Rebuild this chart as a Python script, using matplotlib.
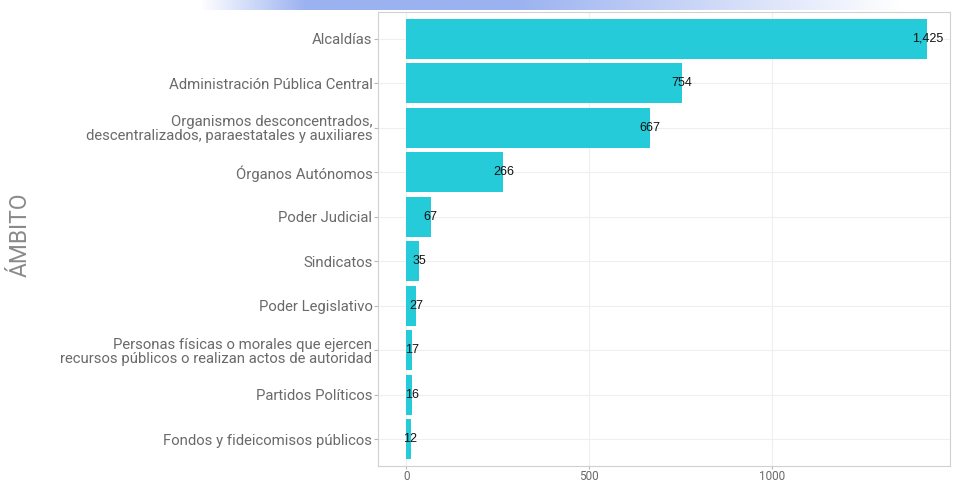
import numpy as np
import matplotlib
matplotlib.use("Agg")
import matplotlib.pyplot as plt

# data
ambitos = [
    "Alcaldías",
    "Administración Pública Central",
    "Organismos desconcentrados,\ndescentralizados, paraestatales y auxiliares",
    "Órganos Autónomos",
    "Poder Judicial",
    "Sindicatos",
    "Poder Legislativo",
    "Personas físicas o morales que ejercen\nrecursos públicos o realizan actos de autoridad",
    "Partidos Políticos",
    "Fondos y fideicomisos públicos",
]
valores = [1425, 754, 667, 266, 67, 35, 27, 17, 16, 12]
xticks = [0, 500, 1000]

bar_color = "#26CBD9"
txt_gray = "#6a6a6a"

fig = plt.figure(figsize=(9.54, 4.83), dpi=100)

# decorative gradient strip at the top
gax = fig.add_axes([200 / 954, 1 - 10 / 483, 700 / 954, 10 / 483])
t = np.linspace(0, 1, 400)
strength = np.clip(np.minimum(t / 0.15, (1 - t) / 0.55), 0, 1)
peak = np.array([155, 178, 240]) / 255.0
grad = 1 - strength[:, None] * (1 - peak[None, :])
gax.imshow(grad[None, :, :], aspect="auto", extent=[0, 1, 0, 1])
gax.axis("off")

ax = fig.add_axes([378 / 954, 17 / 483, 572 / 954, 454 / 483])
ypos = np.arange(len(ambitos))
ax.barh(ypos, valores, height=0.9, color=bar_color, zorder=2)
for y, v in zip(ypos, valores):
    ax.text(v, y, f"{v:,}", ha="center", va="center", fontsize=9,
            color="#111111", family="Liberation Sans", zorder=3)

ax.set_yticks(ypos)
ax.set_yticklabels(ambitos, fontsize=10.7, color=txt_gray, family="Roboto",
                   linespacing=1.0)
ax.set_xticks(xticks)
ax.set_xticklabels([str(x) for x in xticks], fontsize=8.5, color=txt_gray,
                   family="Roboto")
ax.set_xlim(-77, 1487)
ax.set_ylim(len(ambitos) - 0.4, -0.6)

ax.grid(True, color="#efefef", linewidth=0.8, zorder=0)
ax.set_axisbelow(True)
for side in ["top", "right", "left", "bottom"]:
    ax.spines[side].set_color("#d0d0d0")
    ax.spines[side].set_linewidth(0.8)
ax.tick_params(axis="y", color="#b8b8b8", length=3, width=0.8, pad=1)
ax.tick_params(axis="x", color="#b8b8b8", length=2, width=0.8, pad=1)

fig.text(20 / 954, 1 - 235 / 483, "ÁMBITO", rotation=90, ha="center",
         va="center", fontsize=16.5, color="#8a8a8a", family="Roboto")

fig.savefig("out.png", dpi=100)
